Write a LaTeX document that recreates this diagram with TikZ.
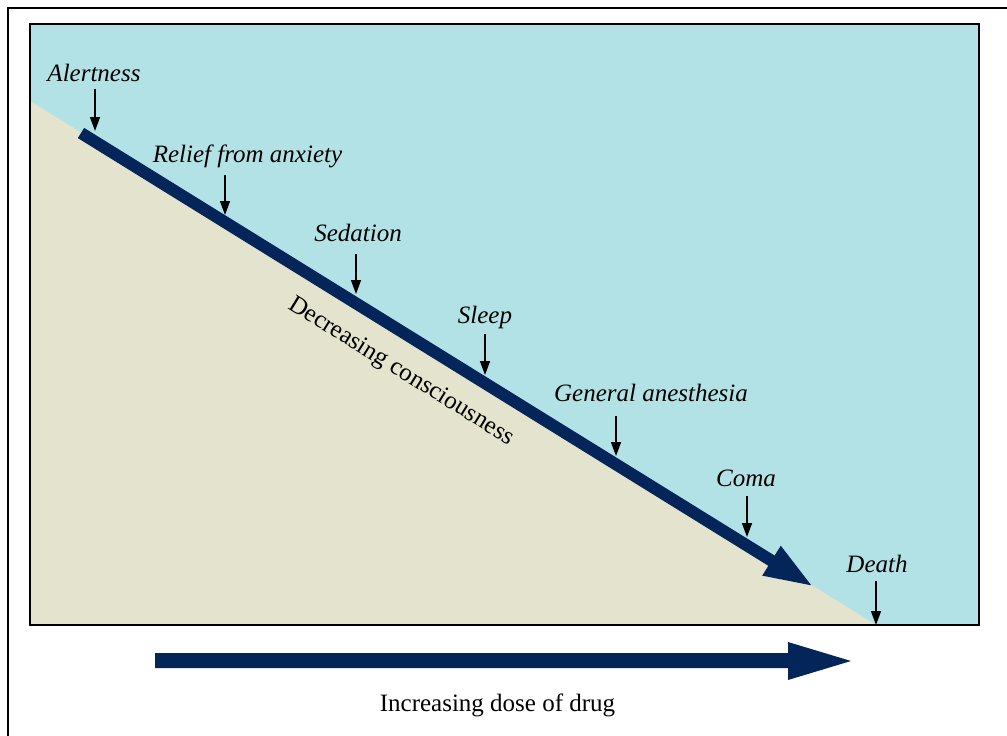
\documentclass[tikz,border=0pt]{standalone}
\usepackage{fontspec}
\setmainfont{Liberation Serif}
\usetikzlibrary{arrows.meta}
\definecolor{skyc}{HTML}{B3E2E6}
\definecolor{sandc}{HTML}{E4E4CE}
\definecolor{navyc}{HTML}{03255A}
\tikzset{
  lbl/.style={font=\fontsize{25}{30}\selectfont\itshape, inner sep=0pt, anchor=base},
  captext/.style={font=\fontsize{25}{30}\selectfont, inner sep=0pt, anchor=base},
  pointer/.style={line width=1.5pt, -{Triangle[width=10pt,length=14pt]}},
  bigarrow/.style={draw=none, fill=navyc}
}
\begin{document}
\begin{tikzpicture}[x=1pt,y=-1pt]
\useasboundingbox (0,0) rectangle (1007,736);
\begin{scope}
\clip (0,0) rectangle (1007,736);
\draw[line width=1.5pt] (8,8) rectangle (1020,750);
\end{scope}
% panel
\fill[skyc] (30,24) rectangle (979,625);
\fill[sandc] (30,101) -- (876,625) -- (30,625) -- cycle;
\draw[line width=2pt] (30,24) rectangle (979,625);
% diagonal arrow
\coordinate (dstart) at (81,133);
\coordinate (dend) at (814,587);
\draw[navyc, line width=12pt, -{Triangle[width=31pt,length=50pt]}] (dstart) -- (dend);
% bottom arrow
\path[bigarrow] (155,653) -- (788,653) -- (788,642) -- (851,661) -- (788,680) -- (788,668) -- (155,668) -- cycle;
\node[captext] (dose) at (497.5,711.5) {Increasing dose of drug};
% diagonal text
\node[font=\fontsize{25}{30}\selectfont, inner sep=0pt, rotate=-31.77] (dec) at (401,372) {Decreasing consciousness};
% labels
\node[lbl] (alert) at (94,81) {Alertness};
\node[lbl] (relief) at (247.5,162) {Relief from anxiety};
\node[lbl] (sed) at (358,241.5) {Sedation};
\node[lbl] (sleep) at (485,323) {Sleep};
\node[lbl] (gen) at (651,401) {General anesthesia};
\node[lbl] (coma) at (746,486.5) {Coma};
\node[lbl] (death) at (877,572) {Death};
% pointer coordinates
\coordinate (a1) at (95,89);  \coordinate (b1) at (95,131);
\coordinate (a2) at (225,175); \coordinate (b2) at (225,215);
\coordinate (a3) at (356,254); \coordinate (b3) at (356,294);
\coordinate (a4) at (485,334); \coordinate (b4) at (485,375);
\coordinate (a5) at (616,416); \coordinate (b5) at (616,456);
\coordinate (a6) at (747,496); \coordinate (b6) at (747,537);
\coordinate (a7) at (876,581); \coordinate (b7) at (876,625);
\foreach \i in {1,...,7} { \draw[pointer] (a\i) -- (b\i); }
\end{tikzpicture}
\end{document}
